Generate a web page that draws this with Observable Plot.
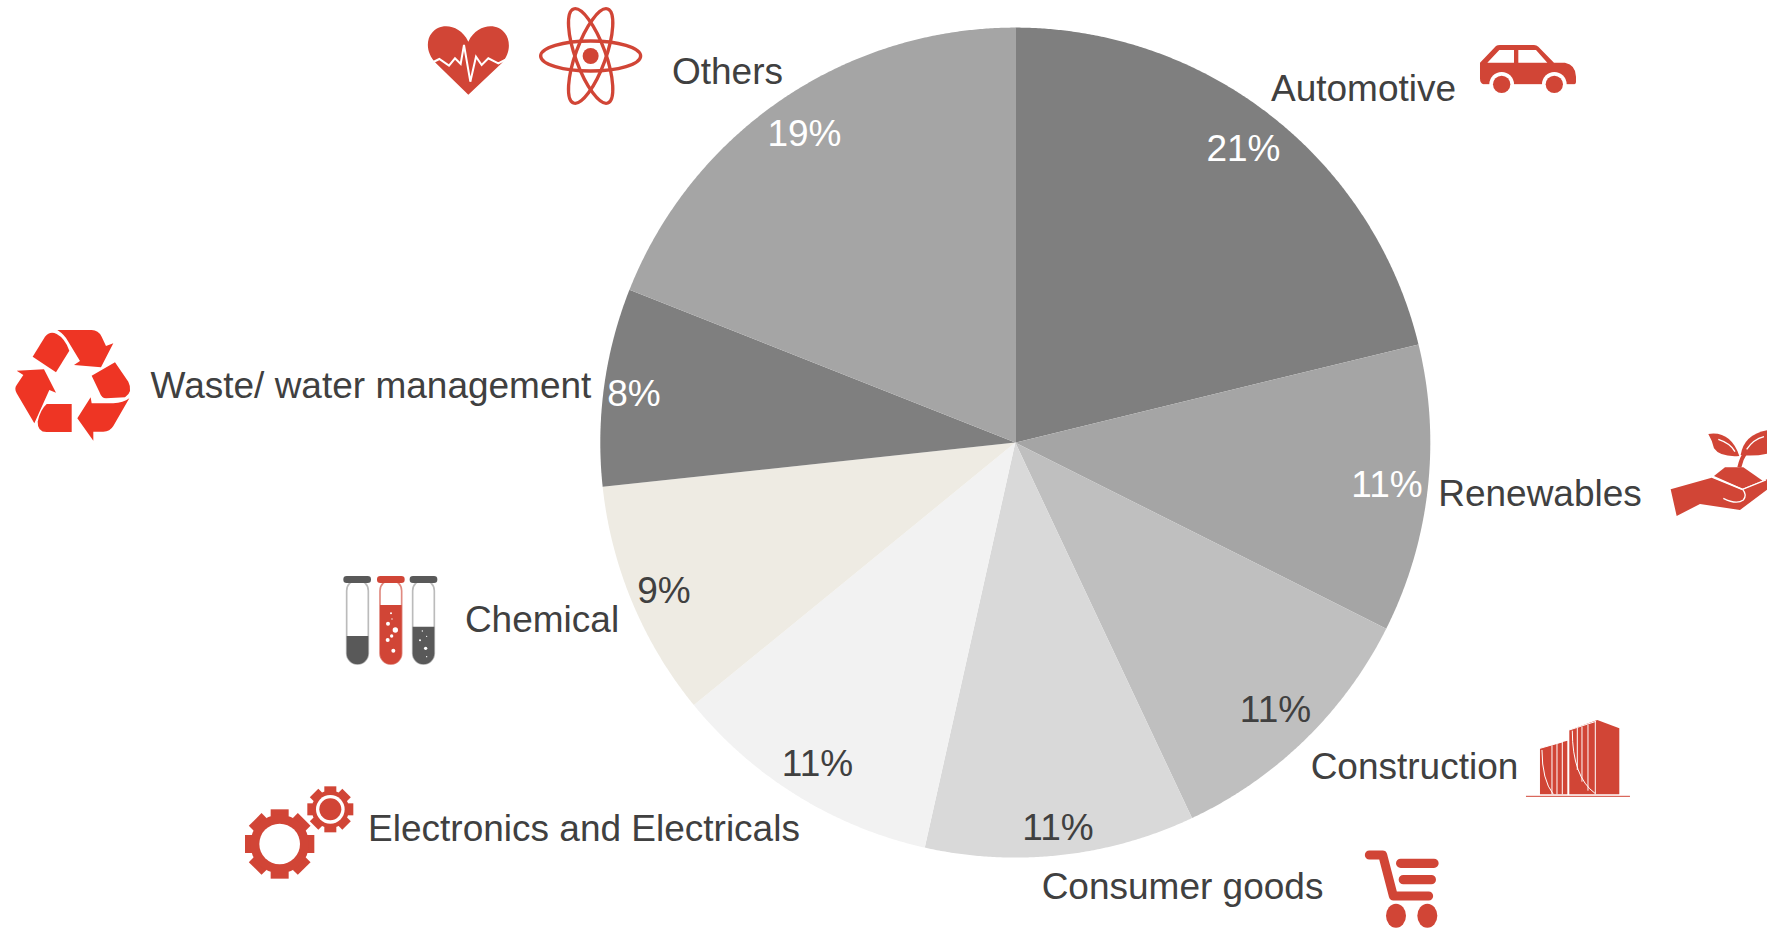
<!DOCTYPE html>
<html>
<head>
<meta charset="utf-8">
<script src="https://cdn.jsdelivr.net/npm/d3@7"></script>
<script src="https://cdn.jsdelivr.net/npm/@observablehq/plot@0.6"></script>
<style>
html,body{margin:0;padding:0;background:#fff;overflow:hidden}
svg{display:block}
</style>
</head>
<body>
<div id="chart"></div>
<script>
const categories = ["Automotive","Renewables","Construction","Consumer goods","Electronics and Electricals","Chemical","Waste/ water management","Others"];
const shares = [21.2,11.2,10.6,10.5,10.6,9.2,7.7,19.0];
const percentLabels = ["21%","11%","11%","11%","11%","9%","8%","19%"];
const sliceColors = ["#7f7f7f","#a5a5a5","#bfbfbf","#d9d9d9","#f2f2f2","#eeebe3","#7f7f7f","#a5a5a5"];
const percentColors = ["#fff","#fff","#404040","#404040","#404040","#404040","#fff","#fff"];

// layout, in page pixels
const cx = 1015.3, cy = 442.6, radius = 415;
const namePos = [[1363,89],[1539.5,494],[1414,767],[1182,887],[583.5,829],[541.5,620],[370.5,386],[727,72]];
const percentPos = [[1243,149],[1386.5,485],[1275,710],[1057.5,828],[817,764],[663.5,590.5],[633.5,393.5],[804,134]];

const total = d3.sum(shares);
const rows = [];
let acc = 0;
categories.forEach((name,i)=>{
  const a0 = acc/total*2*Math.PI, a1 = (acc+shares[i])/total*2*Math.PI;
  const n = Math.ceil((a1-a0)/0.005);
  for(let k=0;k<=n;k++){
    const a = a0+(a1-a0)*k/n;
    rows.push({name,x1:cx,y1:cy,x2:cx+radius*Math.sin(a),y2:cy-radius*Math.cos(a)});
  }
  acc += shares[i];
});
const names = categories.map((name,i)=>({name,x:namePos[i][0],y:namePos[i][1]}));
const percents = percentLabels.map((label,i)=>({label,x:percentPos[i][0],y:percentPos[i][1],color:percentColors[i]}));

const RED="#d14536", BRIGHT="#ee3524", DARK="#595959";
function gear(cxg,cyg,body,outer,tw){
  let s="";
  for(let i=0;i<8;i++) s+=`<rect x="${cxg-tw/2}" y="${cyg-outer}" width="${tw}" height="${outer-body+6}" transform="rotate(${i*45} ${cxg} ${cyg})"/>`;
  return s+`<circle cx="${cxg}" cy="${cyg}" r="${body}"/>`;
}
const bubbles=[[213,160,3],[216,177,2],[204,191,6],[226,210,8],[215,228,5],[203,240,6],[220,272,6]];
const bubbles2=[[307,213,2],[320,229,2],[300,241,3],[317,265,5],[320,290,2]];
const icons = `
<g transform="translate(400,0) scale(.3333)">
  <path fill="${RED}" d="M205 284L108 190C78 160 78 120 95 100C118 68 178 70 205 125C232 70 292 68 315 100C332 122 332 160 305 190Z"/>
  <path fill="none" stroke="#fff" stroke-width="6" d="M100 186L118 177L147 197L165 175L182 192L192 135L211 245L228 170L245 195L265 175L295 190L318 178"/>
  <g fill="none" stroke="${RED}" stroke-width="10">
    <ellipse cx="572" cy="168" rx="150" ry="45"/>
    <ellipse cx="572" cy="168" rx="150" ry="45" transform="rotate(70 572 168)"/>
    <ellipse cx="572" cy="168" rx="150" ry="45" transform="rotate(-70 572 168)"/>
  </g>
  <circle cx="572" cy="168" r="24" fill="${RED}"/>
</g>
<g transform="translate(0,310) scale(.3333)" fill="${BRIGHT}">
  <path d="M98 140L135 80Q150 62 170 72Q195 85 208 122L168 187Z"/>
  <path d="M172 60L275 60Q295 60 305 80L318 108L340 100L303 172L222 165L240 153L205 95Q195 75 172 60Z"/>
  <path d="M275 197L345 157L385 215Q400 245 375 262L318 265Q305 265 298 245Z"/>
  <path d="M388 265L340 348Q330 365 310 365L280 365L280 392L232 325L272 262L275 280L340 280Q370 278 388 265Z"/>
  <path d="M215 282L215 366L140 366Q112 366 113 335Q120 300 140 282Z"/>
  <path d="M50 182L132 178L168 248L148 240L103 340L50 250Q42 235 50 225L70 195Z"/>
</g>
<g transform="translate(320,560) scale(.3333)">
  <rect x="80" y="60" width="65" height="252" rx="32" fill="#fff" stroke="#bbb" stroke-width="5"/>
  <path fill="${DARK}" d="M80 228H145V280A32 32 0 0 1 80 280Z"/>
  <rect x="70" y="48" width="83" height="21" rx="10" fill="${DARK}"/>
  <rect x="180" y="60" width="65" height="252" rx="32" fill="#fff" stroke="#e08a80" stroke-width="5"/>
  <path fill="${RED}" d="M180 135H245V280A32 32 0 0 1 180 280Z"/>
  <rect x="171" y="48" width="83" height="21" rx="10" fill="${RED}"/>
  ${bubbles.map(b=>`<circle cx="${b[0]}" cy="${b[1]}" r="${b[2]}" fill="#fff"/>`).join("")}
  <rect x="278" y="60" width="65" height="252" rx="32" fill="#fff" stroke="#bbb" stroke-width="5"/>
  <path fill="${DARK}" d="M278 200H343V280A32 32 0 0 1 278 280Z"/>
  <rect x="269" y="48" width="83" height="21" rx="10" fill="${DARK}"/>
  ${bubbles2.map(b=>`<circle cx="${b[0]}" cy="${b[1]}" r="${b[2]}" fill="#fff"/>`).join("")}
</g>
<g transform="translate(230,770) scale(.3333)" fill="${RED}">
  ${gear(149,222,88,104,54)}
  <circle cx="149" cy="222" r="61" fill="#fff"/>
  ${gear(301,118,56,69,36)}
  <circle cx="301" cy="118" r="43" fill="#fff"/>
  <circle cx="301" cy="118" r="33"/>
</g>
<g transform="translate(1340,700) scale(.3333)">
  <path fill="${RED}" d="M600 145L682 122V283H600Z"/>
  <path fill="${RED}" d="M688 90L772 60L838 85V283H688Z"/>
  <g fill="none" stroke="#fff" stroke-width="3">
    <path d="M600 145L666 126M688 90L768 64"/>
    <path d="M606 150Q606 240 640 283"/>
    <path d="M636 136V283M651 132V283M667 126V283"/>
    <path d="M697 92Q697 230 765 280"/>
    <path d="M712 84V210M726 80V245M744 74V272M766 66V283"/>
  </g>
  <path d="M558 289H870" stroke="${RED}" stroke-width="3" fill="none"/>
  <path fill="none" stroke="${RED}" stroke-width="27" stroke-linecap="round" stroke-linejoin="round" d="M88 465H128L160 588H266"/>
  <path fill="none" stroke="${RED}" stroke-width="28" stroke-linecap="round" d="M182 490H282M190 539H274"/>
  <ellipse cx="168" cy="647" rx="30" ry="36" fill="${RED}"/>
  <ellipse cx="262" cy="647" rx="30" ry="36" fill="${RED}"/>
</g>
<g transform="translate(1460,20) scale(.3333)">
  <path fill="${RED}" d="M60 128L108 78Q112 75 120 75H222Q230 75 235 80L282 128H315Q348 135 348 170V185Q348 193 340 193H70Q60 190 60 175Z"/>
  <path fill="#fff" d="M82 128L118 90H162V128ZM175 90H228L262 128H175Z"/>
  <circle cx="125" cy="193" r="37" fill="#fff"/>
  <circle cx="283" cy="193" r="37" fill="#fff"/>
  <rect x="60" y="194" width="300" height="40" fill="#fff"/>
  <circle cx="125" cy="193" r="26" fill="${RED}"/>
  <circle cx="283" cy="193" r="26" fill="${RED}"/>
</g>
<g transform="translate(1640,410) scale(.3333)">
  <path fill="${RED}" d="M92 238L215 203L305 240L375 210L400 200V225L300 300L180 282L110 318Z"/>
  <path fill="${RED}" d="M222 198L255 172L310 172L368 212L308 236Z"/>
  <path fill="none" stroke="${RED}" stroke-width="12" d="M298 172Q304 145 318 125"/>
  <path fill="${RED}" d="M205 72Q272 62 298 138Q240 142 222 115Q216 90 205 72Z"/>
  <path fill="${RED}" d="M302 135Q312 72 385 60V130Q345 140 302 135Z"/>
  <g fill="none" stroke="#fff" stroke-width="4">
    <path d="M235 88Q272 100 285 125M320 118Q340 88 372 80"/>
    <path d="M218 201L308 238L378 210M250 265Q290 285 310 270Q322 255 308 238"/>
  </g>
</g>`;

const plot = Plot.plot({
  width: 1767, height: 930,
  margin: 0,
  x: {domain:[0,1767], range:[0,1767], axis:null},
  y: {domain:[0,930], range:[0,930], axis:null},
  color: {domain: categories, range: sliceColors},
  style: {background:"#fff"},
  marks: [
    Plot.area(rows,{x1:"x1",y1:"y1",x2:"x2",y2:"y2",z:"name",fill:"name",curve:"linear"}),
    Plot.text(names,{x:"x",y:"y",text:"name",fill:"#404040",fontSize:37,fontFamily:"'Liberation Sans',Arial,sans-serif",textAnchor:"middle"}),
    Plot.text(percents,{x:"x",y:"y",text:"label",fill:"color",fontSize:37,fontFamily:"'Liberation Sans',Arial,sans-serif",textAnchor:"middle"}),
    () => d3.create("svg:g").html(icons).node()
  ]
});
document.getElementById("chart").append(plot);
</script>
</body>
</html>
